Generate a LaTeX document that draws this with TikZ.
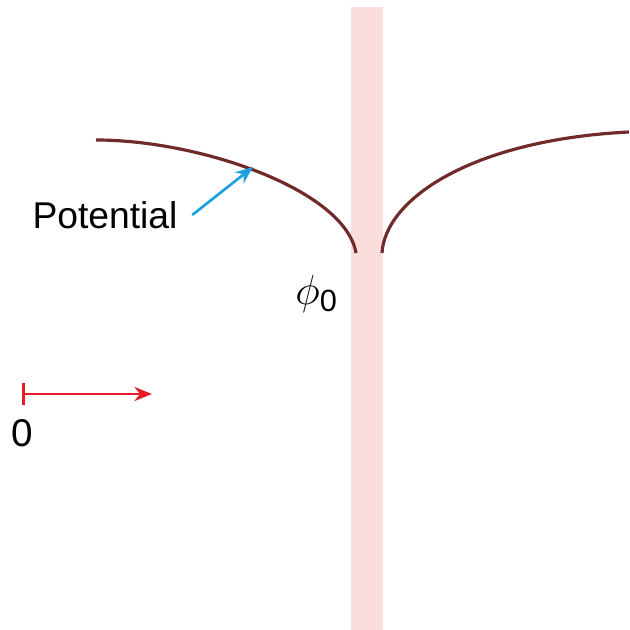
\documentclass[tikz,border=0pt]{standalone}
\usepackage{amsmath}
\usepackage{fontspec}
\setmainfont{Liberation Sans}
\usetikzlibrary{arrows.meta}
\definecolor{bandpink}{RGB}{252,221,221}
\definecolor{potbrown}{RGB}{112,42,42}
\definecolor{tipblue}{RGB}{28,160,222}
\definecolor{axisred}{RGB}{232,28,40}
\begin{document}
\begin{tikzpicture}[>={Stealth[length=5pt,width=4pt]}]
    \useasboundingbox (0,0) rectangle (6.29,6.30);
    \fill[bandpink] (3.51,0) rectangle (3.83,6.23);

    \draw[potbrown, line width=0.9pt] (0.96,4.90) .. controls (2.00,4.90) and (3.45,4.40) .. (3.56,3.77);
    \draw[potbrown, line width=0.9pt] (3.82,3.77) .. controls (3.85,4.30) and (4.70,4.90) .. (6.29,4.98);

    \coordinate (ontop) at (2.53,4.63);
    \node[font=\fontsize{10.6}{12}\selectfont, inner sep=1pt] (potlbl) at (1.05,4.15) {Potential};
    \draw[->, tipblue, line width=0.75pt] ([xshift=3pt]potlbl.east) -- (ontop);

    \node[font=\fontsize{12.5}{14}\selectfont] (philbl) at (3.17,3.36) {$\phi_{\text{0}}$};

    \coordinate (zero) at (0.22,2.36);
    \coordinate (xend) at (1.52,2.36);
    \draw[|->, axisred, line width=0.8pt] (zero) -- (xend);
    \node[font=\fontsize{11}{13}\selectfont] (zerolbl) at (0.22,1.97) {0};
\end{tikzpicture}
\end{document}
